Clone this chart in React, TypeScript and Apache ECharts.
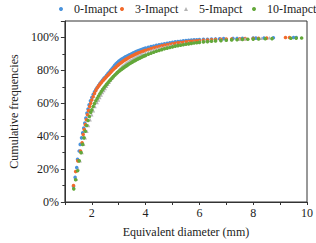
import React, { useEffect, useRef } from "react";
import * as echarts from "echarts";

const seriesNames = ["0-Imapct", "3-Imapct", "5-Imapct", "10-Imapct"];
const colors = ["#4a93dc", "#f2692a", "#b4b4b4", "#63a83a"];

const impact0: [number, number][] = [
  [1.32, 9.5], [1.38, 15], [1.44, 21], [1.47, 26], [1.53, 31], [1.57, 35], [1.62, 39], [1.66, 42],
  [1.7, 45], [1.74, 48], [1.78, 51], [1.82, 54], [1.86, 56.5], [1.9, 59], [1.95, 61.5], [2.0, 63.5],
  [2.05, 65.3], [2.1, 66.9], [2.15, 68.3], [2.2, 69.6], [2.25, 70.8], [2.3, 72], [2.35, 73.1], [2.4, 74.1],
  [2.45, 75.1], [2.5, 76], [2.55, 77], [2.6, 78], [2.65, 79], [2.7, 80], [2.75, 81], [2.8, 82],
  [2.85, 83], [2.9, 84], [2.95, 84.8], [3.0, 85.5], [3.05, 86.1], [3.1, 86.7], [3.15, 87.2], [3.2, 87.7],
  [3.25, 88.2], [3.3, 88.6], [3.35, 89], [3.4, 89.4], [3.45, 89.8], [3.5, 90.2], [3.55, 90.6], [3.6, 91],
  [3.65, 91.4], [3.7, 91.7], [3.75, 92], [3.8, 92.3], [3.85, 92.6], [3.9, 92.9], [3.95, 93.2], [4.0, 93.5],
  [4.1, 94], [4.2, 94.4], [4.3, 94.8], [4.4, 95.2], [4.5, 95.6], [4.6, 95.9], [4.7, 96.2], [4.8, 96.5],
  [4.9, 96.8], [5.0, 97], [5.1, 97.3], [5.2, 97.5], [5.3, 97.7], [5.4, 97.9], [5.5, 98.1], [5.6, 98.2],
  [5.7, 98.4], [5.8, 98.5], [5.9, 98.6], [6.0, 98.7], [6.15, 98.8], [6.3, 98.9], [6.45, 99], [6.6, 99.1],
  [6.75, 99.2], [6.9, 99.3], [7.25, 99.4], [7.4, 99.4], [7.6, 99.5], [8.0, 99.6], [8.1, 99.6], [8.4, 99.7],
  [8.75, 99.8], [9.5, 100], [9.6, 100],
];

const impact3: [number, number][] = [
  [1.32, 10], [1.4, 18.5], [1.48, 25], [1.58, 31], [1.64, 36], [1.68, 41], [1.72, 44], [1.76, 47],
  [1.8, 50], [1.84, 53], [1.88, 55.5], [1.92, 58], [1.96, 60], [2.0, 62], [2.05, 64], [2.1, 66],
  [2.15, 67.8], [2.2, 69.3], [2.25, 70.4], [2.3, 71.5], [2.35, 72.5], [2.4, 73.5], [2.45, 74.4], [2.5, 75.3],
  [2.55, 76.2], [2.6, 77], [2.65, 77.9], [2.7, 78.8], [2.75, 79.7], [2.8, 80.5], [2.85, 81.3], [2.9, 82],
  [2.95, 82.8], [3.0, 83.5], [3.05, 84.2], [3.1, 84.8], [3.15, 85.4], [3.2, 86], [3.25, 86.5], [3.3, 87],
  [3.35, 87.5], [3.4, 88], [3.45, 88.4], [3.5, 88.8], [3.55, 89.2], [3.6, 89.6], [3.65, 90], [3.7, 90.3],
  [3.75, 90.7], [3.8, 91], [3.85, 91.3], [3.9, 91.6], [3.95, 91.9], [4.0, 92.2], [4.1, 92.7], [4.2, 93.2],
  [4.3, 93.7], [4.4, 94.1], [4.5, 94.5], [4.6, 94.9], [4.7, 95.3], [4.8, 95.6], [4.9, 95.9], [5.0, 96.2],
  [5.1, 96.5], [5.2, 96.7], [5.3, 96.9], [5.4, 97.1], [5.5, 97.3], [5.6, 97.5], [5.7, 97.7], [5.8, 97.8],
  [5.9, 98], [6.0, 98.1], [6.15, 98.3], [6.3, 98.4], [6.45, 98.6], [6.6, 98.7], [6.8, 98.9], [7.0, 99],
  [7.2, 99.1], [7.5, 99.2], [7.7, 99.3], [8.0, 99.4], [8.2, 99.5], [8.5, 99.6], [9.2, 100], [9.35, 100],
];

const impact5: [number, number][] = [
  [1.43, 14], [1.5, 20], [1.57, 25], [1.64, 30], [1.7, 35], [1.76, 39], [1.82, 43], [1.88, 46.5],
  [1.94, 50], [2.0, 53], [2.06, 55.5], [2.12, 58], [2.2, 60.5], [2.25, 62], [2.3, 63.5], [2.35, 65],
  [2.4, 66.5], [2.45, 67.8], [2.5, 69], [2.55, 70.3], [2.6, 71.5], [2.65, 72.8], [2.7, 74], [2.75, 75.2],
  [2.8, 76.3], [2.85, 77.4], [2.9, 78.5], [2.95, 79.4], [3.0, 80.3], [3.05, 81.2], [3.1, 82], [3.15, 82.7],
  [3.2, 83.4], [3.25, 84.1], [3.3, 84.7], [3.35, 85.3], [3.4, 85.8], [3.45, 86.3], [3.5, 86.8], [3.55, 87.3],
  [3.6, 87.7], [3.65, 88.1], [3.7, 88.5], [3.75, 88.9], [3.8, 89.3], [3.85, 89.7], [3.9, 90], [4.0, 90.7],
  [4.1, 91.3], [4.2, 91.9], [4.3, 92.5], [4.4, 93], [4.5, 93.5], [4.6, 93.9], [4.7, 94.3], [4.8, 94.7],
  [4.9, 95.1], [5.0, 95.4], [5.15, 95.8], [5.3, 96.2], [5.45, 96.6], [5.6, 96.9], [5.8, 97.3], [6.0, 97.6],
  [6.2, 97.9], [6.4, 98.1], [6.6, 98.4], [6.8, 98.6], [7.0, 98.8], [7.2, 98.9], [7.5, 99.1], [7.7, 99.2],
  [8.2, 99.5], [8.3, 99.5], [8.6, 99.8],
];

const impact10: [number, number][] = [
  [1.33, 8], [1.4, 13.5], [1.47, 19], [1.53, 25], [1.6, 30], [1.66, 35], [1.71, 39], [1.76, 43],
  [1.81, 46.5], [1.86, 49.5], [1.91, 52], [1.96, 54.5], [2.0, 56], [2.05, 58], [2.1, 59.8], [2.15, 61.5],
  [2.2, 63], [2.25, 64.4], [2.3, 65.8], [2.35, 67.1], [2.4, 68.3], [2.45, 69.4], [2.5, 70.5], [2.55, 71.5],
  [2.6, 72.5], [2.65, 73.5], [2.7, 74.4], [2.75, 75.3], [2.8, 76.2], [2.85, 77], [2.9, 77.8], [2.95, 78.6],
  [3.0, 79.3], [3.05, 80], [3.1, 80.6], [3.15, 81.2], [3.2, 81.8], [3.25, 82.4], [3.3, 82.9], [3.35, 83.5],
  [3.4, 84], [3.45, 84.5], [3.5, 85], [3.55, 85.5], [3.6, 85.9], [3.65, 86.4], [3.7, 86.8], [3.75, 87.2],
  [3.8, 87.6], [3.85, 88], [3.9, 88.4], [3.95, 88.8], [4.0, 89.1], [4.1, 89.8], [4.2, 90.4], [4.3, 91],
  [4.4, 91.6], [4.5, 92.1], [4.6, 92.6], [4.7, 93.1], [4.8, 93.5], [4.9, 93.9], [5.0, 94.3], [5.1, 94.7],
  [5.2, 95], [5.3, 95.3], [5.4, 95.6], [5.5, 95.9], [5.6, 96.1], [5.7, 96.4], [5.8, 96.6], [5.9, 96.8],
  [6.0, 97], [6.15, 97.3], [6.3, 97.5], [6.45, 97.7], [6.6, 97.9], [6.8, 98.1], [7.0, 98.3], [7.2, 98.5],
  [7.4, 98.6], [7.6, 98.8], [7.8, 98.9], [8.0, 99], [8.2, 99.1], [8.45, 99.2], [8.7, 99.3], [9.4, 99.5],
  [9.6, 99.6], [9.8, 99.7],
];

const seriesData = [impact0, impact3, impact5, impact10];
const symbols = ["circle", "circle", "triangle", "circle"];
const legendIcons = ["circle", "circle", "path://M0,10L5,0L10,10Z", "circle"];
const symbolSizes = [3.6, 3.6, 3.4, 3.6];
const legendLefts = [59, 120, 184, 252];

const yTicks = [0, 20, 40, 60, 80, 100];
const xTickLabels = [2, 4, 6, 8, 10];

const FONT = "'Liberation Serif', 'Times New Roman', serif";
const AXIS_COLOR = "#333";

export default function App() {
  const ref = useRef<HTMLDivElement>(null);
  useEffect(() => {
    if (!ref.current) return;
    const chart = echarts.init(ref.current, undefined, { renderer: "svg" });
    chart.setOption({
      animation: false,
      backgroundColor: "#fff",
      legend: seriesNames.map((n, i) => ({
        top: 3,
        left: legendLefts[i],
        padding: 0,
        itemWidth: 16,
        itemHeight: 4,
        symbolKeepAspect: true,
        textStyle: { fontFamily: FONT, fontSize: 12, color: "#222" },
        data: [{ name: n, icon: legendIcons[i] }],
      })),
      grid: {
        left: 52,
        right: 9,
        top: 21,
        bottom: 35,
        show: true,
        borderColor: AXIS_COLOR,
        borderWidth: 1,
        backgroundColor: "transparent",
      },
      xAxis: {
        type: "value",
        min: 1,
        max: 10,
        interval: 1,
        name: "Equivalent diameter (mm)",
        nameLocation: "middle",
        nameGap: 24,
        nameTextStyle: { fontFamily: FONT, fontSize: 12, color: "#222" },
        axisLine: { show: true, lineStyle: { color: AXIS_COLOR } },
        axisTick: { show: true, length: 3, lineStyle: { color: AXIS_COLOR } },
        splitLine: { show: false },
        axisLabel: {
          fontFamily: FONT,
          fontSize: 12,
          color: "#222",
          margin: 5,
          formatter: (v: number) => (xTickLabels.includes(v) ? String(v) : ""),
        },
      },
      yAxis: {
        type: "value",
        min: 0,
        max: 110,
        interval: 20,
        name: "Cumulative frequencies",
        nameLocation: "middle",
        nameGap: 40,
        nameTextStyle: { fontFamily: FONT, fontSize: 12, color: "#222" },
        axisLine: { show: true, lineStyle: { color: AXIS_COLOR } },
        axisTick: { show: true, length: 4, lineStyle: { color: AXIS_COLOR } },
        minorTick: { show: true, splitNumber: 2, length: 2.5, lineStyle: { color: AXIS_COLOR } },
        splitLine: { show: false },
        axisLabel: {
          fontFamily: FONT,
          fontSize: 12,
          color: "#222",
          margin: 6,
          showMaxLabel: false,
          formatter: (v: number) => (yTicks.includes(v) ? v + "%" : ""),
        },
      },
      series: seriesNames.map((name, i) => ({
        name,
        type: "scatter",
        symbol: symbols[i],
        symbolSize: symbolSizes[i],
        itemStyle: { color: colors[i], opacity: 1 },
        data: seriesData[i],
      })),
    });
    return () => chart.dispose();
  }, []);
  return <div ref={ref} style={{ width: 316, height: 243, position: "absolute", left: 0, top: 0 }} />;
}
